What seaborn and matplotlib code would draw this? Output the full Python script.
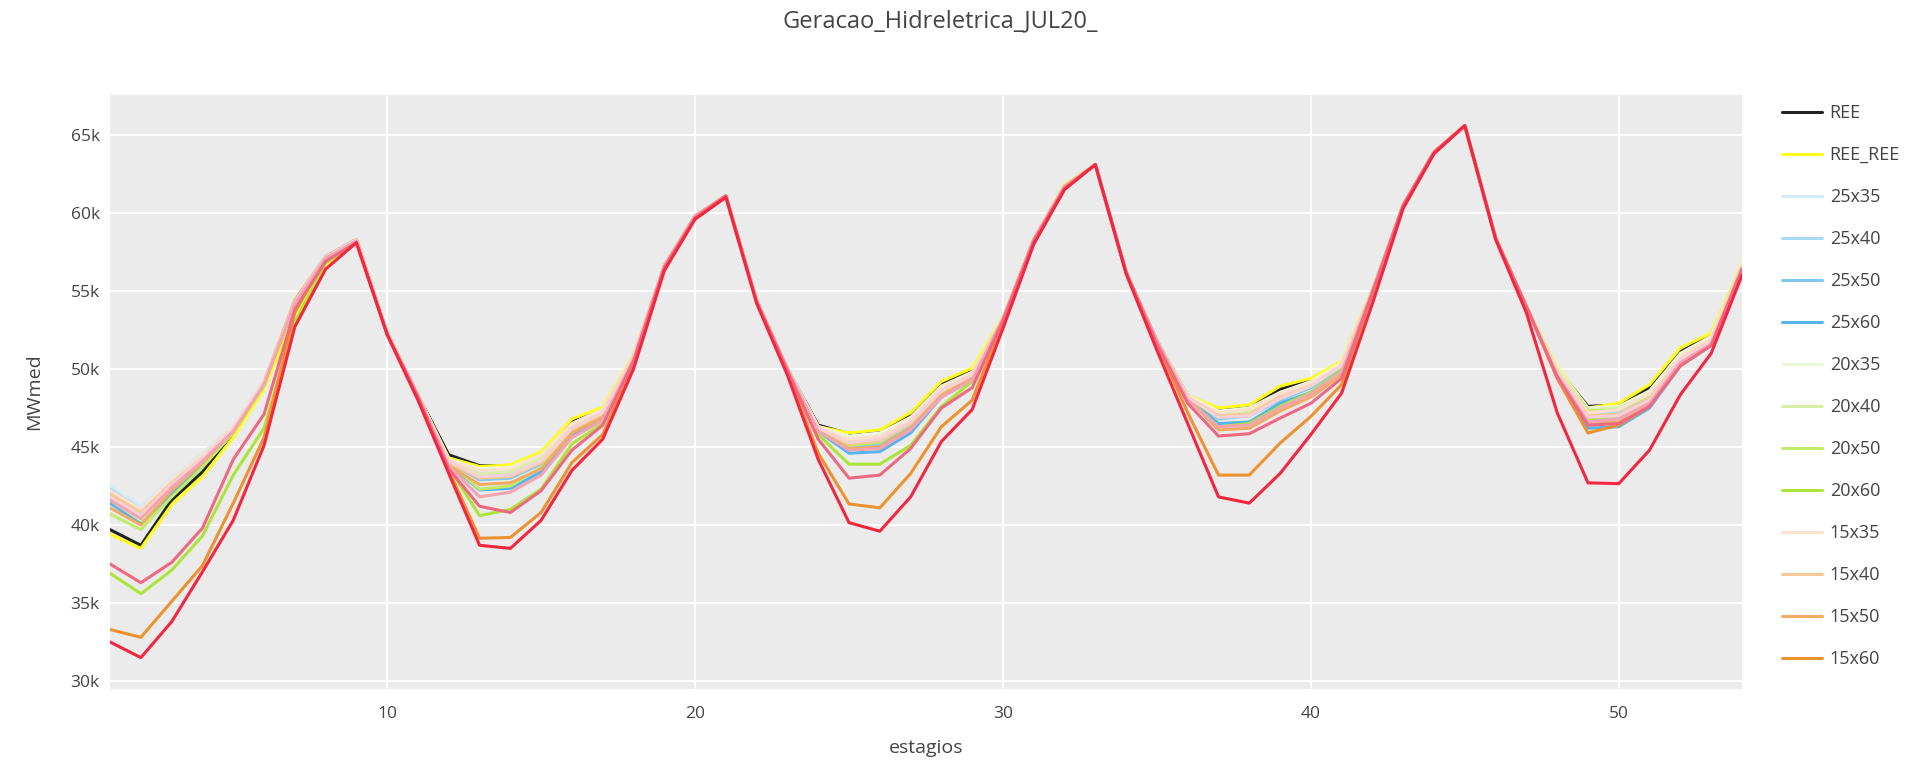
import numpy as np
import pandas as pd
import matplotlib
matplotlib.use("Agg")
import matplotlib.pyplot as plt
from matplotlib.ticker import FuncFormatter
import seaborn as sns

sns.set_style("darkgrid")
plt.rcParams['font.family'] = ['Open Sans', 'DejaVu Sans']

# estagios 1..54, valores em mil MWmed
estagios = list(range(1, 55))

ree = [39.7, 38.7, 41.6, 43.4, 45.9, 48.9, 54.2, 57.1, 58.2,
       52.3, 48.3, 44.5, 43.8, 43.8, 44.6, 46.6, 47.4, 50.8,
       56.6, 59.8, 61.1, 54.4, 50.0, 46.4, 45.85, 46.05, 47.1, 49.1, 49.9,
       53.2, 58.3, 61.7, 63.1, 56.2, 51.8, 48.3, 47.4, 47.6, 48.7, 49.3, 50.4,
       55.0, 60.5, 63.9, 65.6, 58.4, 54.0, 50.0, 47.6, 47.7, 48.8, 51.1, 52.2, 56.6]
ree_ree = [39.4, 38.5, 41.3, 43.1, 45.6, 48.7, 53.5, 56.7, 58.1,
           52.3, 48.3, 44.3, 43.75, 43.85, 44.7, 46.8, 47.55, 50.9,
           56.6, 59.8, 61.1, 54.4, 50.0, 46.3, 45.9, 46.1, 47.2, 49.2, 50.05,
           53.3, 58.3, 61.8, 63.1, 56.2, 51.8, 48.3, 47.5, 47.7, 48.9, 49.4, 50.5,
           55.1, 60.5, 63.9, 65.6, 58.4, 54.0, 50.1, 47.5, 47.8, 49.0, 51.35, 52.3, 56.7]
c25x35 = [42.5, 41.2, 43.0, 44.6, 46.3, 49.2, 54.4, 57.3, 58.3,
          52.3, 48.3, 44.2, 43.4, 43.5, 44.4, 46.4, 47.3, 50.8,
          56.6, 59.8, 61.1, 54.4, 50.0, 46.3, 45.6, 45.8, 46.8, 48.8, 49.7,
          53.2, 58.3, 61.7, 63.1, 56.2, 51.8, 48.2, 47.2, 47.4, 48.4, 49.1, 50.3,
          55.0, 60.5, 63.9, 65.6, 58.4, 54.0, 49.9, 47.3, 47.5, 48.5, 50.9, 52.0, 56.6]
c25x40 = [42.3, 41.0, 42.8, 44.4, 46.2, 49.2, 54.4, 57.2, 58.3,
          52.3, 48.3, 44.1, 43.2, 43.3, 44.2, 46.2, 47.2, 50.8,
          56.6, 59.8, 61.1, 54.4, 50.0, 46.2, 45.3, 45.5, 46.6, 48.6, 49.6,
          53.2, 58.3, 61.7, 63.1, 56.2, 51.8, 48.2, 47.0, 47.2, 48.2, 49.0, 50.2,
          55.0, 60.5, 63.9, 65.6, 58.4, 54.0, 49.8, 47.0, 47.2, 48.2, 50.7, 51.9, 56.6]
c25x50 = [41.9, 40.6, 42.5, 44.1, 46.0, 49.1, 54.3, 57.2, 58.3,
          52.3, 48.3, 44.0, 42.9, 43.0, 43.9, 46.0, 47.0, 50.7,
          56.6, 59.8, 61.1, 54.4, 50.0, 46.1, 45.0, 45.2, 46.4, 48.5, 49.5,
          53.2, 58.3, 61.7, 63.1, 56.2, 51.8, 48.1, 46.8, 47.0, 48.0, 48.8, 50.1,
          55.0, 60.5, 63.9, 65.6, 58.4, 54.0, 49.7, 46.7, 46.9, 47.9, 50.5, 51.7, 56.5]
c25x60 = [41.4, 40.1, 42.0, 43.8, 45.9, 49.0, 54.3, 57.2, 58.3,
          52.3, 48.3, 43.9, 42.25, 42.35, 43.4, 45.8, 46.9, 50.7,
          56.6, 59.8, 61.1, 54.4, 50.0, 46.0, 44.6, 44.7, 45.9, 48.2, 49.3,
          53.2, 58.3, 61.7, 63.1, 56.2, 51.8, 48.1, 46.5, 46.6, 47.8, 48.5, 49.9,
          55.0, 60.5, 63.9, 65.6, 58.4, 54.0, 49.5, 46.2, 46.3, 47.5, 50.2, 51.5, 56.4]
c20x35 = [42.1, 40.9, 42.8, 44.4, 46.2, 49.1, 54.3, 57.2, 58.3,
          52.3, 48.3, 44.2, 43.6, 43.7, 44.5, 46.5, 47.4, 50.8,
          56.6, 59.8, 61.1, 54.4, 50.0, 46.3, 45.7, 45.9, 46.9, 48.9, 49.8,
          53.2, 58.3, 61.7, 63.1, 56.2, 51.8, 48.3, 47.3, 47.5, 48.5, 49.2, 50.4,
          55.0, 60.5, 63.9, 65.6, 58.4, 54.0, 50.0, 47.5, 47.6, 48.6, 51.0, 52.1, 56.6]
c20x40 = [41.6, 40.3, 42.3, 44.0, 46.0, 49.0, 54.3, 57.2, 58.3,
          52.3, 48.3, 44.1, 43.3, 43.4, 44.3, 46.3, 47.3, 50.8,
          56.6, 59.8, 61.1, 54.4, 50.0, 46.2, 45.4, 45.6, 46.7, 48.7, 49.7,
          53.2, 58.3, 61.7, 63.1, 56.2, 51.8, 48.2, 47.1, 47.3, 48.3, 49.0, 50.3,
          55.0, 60.5, 63.9, 65.6, 58.4, 54.0, 49.9, 47.4, 47.5, 48.4, 50.8, 52.0, 56.6]
c20x50 = [40.7, 39.7, 41.8, 43.7, 45.9, 48.9, 54.2, 57.1, 58.2,
          52.3, 48.3, 44.0, 42.3, 42.5, 43.7, 46.0, 47.1, 50.8,
          56.6, 59.8, 61.1, 54.4, 50.0, 46.1, 45.1, 45.3, 46.5, 48.5, 49.6,
          53.2, 58.3, 61.7, 63.1, 56.2, 51.8, 48.2, 46.9, 47.1, 48.1, 48.9, 50.2,
          55.0, 60.5, 63.9, 65.6, 58.4, 54.0, 49.9, 47.3, 47.4, 48.3, 50.7, 51.9, 56.6]
c20x60 = [36.9, 35.6, 37.1, 39.3, 43.2, 46.2, 53.0, 56.8, 58.1,
          52.2, 48.2, 43.7, 40.6, 41.0, 42.3, 45.2, 46.5, 50.6,
          56.5, 59.8, 61.1, 54.3, 49.9, 45.8, 43.9, 43.9, 45.1, 47.6, 49.2,
          53.1, 58.2, 61.7, 63.1, 56.2, 51.7, 48.1, 46.3, 46.5, 47.6, 48.5, 49.9,
          54.9, 60.5, 63.9, 65.6, 58.4, 54.0, 49.8, 46.8, 47.0, 48.0, 50.5, 51.8, 56.5]
c15x35 = [42.2, 41.0, 42.9, 44.5, 46.3, 49.2, 54.4, 57.2, 58.3,
          52.3, 48.3, 44.2, 43.5, 43.6, 44.5, 46.5, 47.4, 50.8,
          56.6, 59.8, 61.1, 54.4, 50.0, 46.3, 45.5, 45.7, 46.8, 48.8, 49.7,
          53.2, 58.3, 61.7, 63.1, 56.2, 51.8, 48.2, 47.2, 47.4, 48.4, 49.1, 50.3,
          55.0, 60.5, 63.9, 65.6, 58.4, 54.0, 49.9, 47.2, 47.4, 48.4, 50.8, 52.0, 56.6]
c15x40 = [42.0, 40.8, 42.7, 44.3, 46.1, 49.1, 54.4, 57.2, 58.3,
          52.3, 48.3, 44.0, 43.0, 43.1, 44.0, 46.1, 47.1, 50.8,
          56.6, 59.8, 61.1, 54.4, 50.0, 46.2, 45.2, 45.4, 46.5, 48.6, 49.6,
          53.2, 58.3, 61.7, 63.1, 56.2, 51.8, 48.2, 47.0, 47.1, 48.2, 48.9, 50.2,
          55.0, 60.5, 63.9, 65.6, 58.4, 54.0, 49.8, 47.0, 47.1, 48.1, 50.6, 51.8, 56.5]
c15x50 = [41.1, 40.0, 42.2, 44.0, 46.0, 49.1, 54.4, 57.2, 58.3,
          52.3, 48.3, 43.8, 42.6, 42.7, 43.6, 45.9, 46.9, 50.7,
          56.6, 59.8, 61.1, 54.4, 50.0, 46.0, 44.9, 45.0, 46.2, 48.3, 49.4,
          53.2, 58.3, 61.7, 63.1, 56.2, 51.8, 48.1, 46.1, 46.2, 47.3, 48.2, 49.6,
          55.0, 60.5, 63.9, 65.6, 58.4, 54.0, 49.6, 46.5, 46.6, 47.7, 50.4, 51.6, 56.5]
c15x60 = [33.3, 32.8, 35.1, 37.4, 41.4, 45.6, 53.6, 57.2, 58.3,
          52.2, 48.1, 43.5, 39.15, 39.2, 40.8, 44.0, 45.8, 50.3,
          56.5, 59.7, 61.1, 54.3, 49.8, 44.6, 41.35, 41.1, 43.3, 46.3, 48.0,
          53.0, 58.2, 61.6, 63.1, 56.2, 51.6, 47.2, 43.2, 43.2, 45.25, 46.96, 49.0,
          54.8, 60.5, 63.9, 65.6, 58.4, 54.0, 49.4, 45.9, 46.4, 47.6, 50.3, 51.6, 56.4]
c10x35 = [41.8, 40.6, 42.6, 44.3, 46.2, 49.1, 54.3, 57.2, 58.3,
          52.3, 48.3, 44.1, 43.1, 43.2, 44.1, 46.2, 47.2, 50.8,
          56.6, 59.8, 61.1, 54.4, 50.0, 46.2, 45.3, 45.5, 46.6, 48.6, 49.6,
          53.2, 58.3, 61.7, 63.1, 56.2, 51.8, 48.2, 46.9, 47.0, 48.1, 48.9, 50.2,
          55.0, 60.5, 63.9, 65.6, 58.4, 54.0, 49.8, 46.9, 47.0, 48.0, 50.6, 51.8, 56.5]
c10x40 = [41.6, 40.4, 42.4, 44.1, 46.0, 49.0, 54.2, 57.1, 58.2,
          52.3, 48.3, 43.8, 41.8, 42.1, 43.2, 45.6, 46.7, 50.6,
          56.6, 59.8, 61.1, 54.4, 50.0, 46.0, 44.8, 44.9, 46.1, 48.2, 49.3,
          53.2, 58.3, 61.7, 63.1, 56.2, 51.8, 48.0, 46.3, 46.4, 47.5, 48.4, 49.8,
          55.0, 60.5, 63.9, 65.6, 58.4, 54.0, 49.6, 46.6, 46.8, 47.8, 50.4, 51.6, 56.4]
c10x50 = [37.5, 36.3, 37.6, 39.8, 44.2, 47.1, 53.8, 56.9, 58.1,
          52.2, 48.2, 43.6, 41.2, 40.8, 42.2, 44.8, 46.4, 50.5,
          56.5, 59.7, 61.1, 54.3, 49.9, 45.5, 43.0, 43.2, 44.9, 47.5, 48.8,
          53.1, 58.2, 61.6, 63.1, 56.2, 51.6, 47.8, 45.7, 45.85, 46.85, 47.8, 49.4,
          54.9, 60.5, 63.9, 65.6, 58.4, 54.0, 49.5, 46.4, 46.5, 47.6, 50.2, 51.5, 56.4]
c10x60 = [32.5, 31.5, 33.8, 37.0, 40.3, 45.1, 52.7, 56.4, 58.1,
          52.2, 48.0, 43.3, 38.7, 38.5, 40.3, 43.5, 45.5, 50.0,
          56.3, 59.6, 61.0, 54.2, 49.6, 44.2, 40.15, 39.6, 41.8, 45.35, 47.4,
          52.6, 58.0, 61.5, 63.1, 56.1, 51.2, 46.5, 41.8, 41.4, 43.3, 45.8, 48.46,
          54.2, 60.3, 63.8, 65.6, 58.3, 53.6, 47.2, 42.7, 42.65, 44.8, 48.35, 51.0, 56.0]

casos = ['REE', 'REE_REE', '25x35', '25x40', '25x50', '25x60',
         '20x35', '20x40', '20x50', '20x60', '15x35', '15x40', '15x50', '15x60',
         '10x35', '10x40', '10x50', '10x60']
series = [ree, ree_ree, c25x35, c25x40, c25x50, c25x60,
          c20x35, c20x40, c20x50, c20x60, c15x35, c15x40, c15x50, c15x60,
          c10x35, c10x40, c10x50, c10x60]
cores = ['#222222', '#ffff1a', '#d4ebf9', '#a9daf5', '#80c8f1', '#55b4ec',
         '#eef6da', '#d7efa6', '#c2eb6c', '#ade43a', '#fbe1ce', '#f6c897', '#f2ab63', '#ee922f',
         '#fad0d8', '#f5a2b1', '#ef6882', '#f3253f']

# long format para o seaborn
rows = []
for nome, vals in zip(casos, series):
    for e, v in zip(estagios, vals):
        rows.append((nome, e, v * 1000))
df = pd.DataFrame(rows, columns=['caso', 'estagios', 'MWmed'])

fig = plt.figure(figsize=(19.18, 7.65), dpi=100)
ax = fig.add_axes([0.0574, 0.1, 0.8508, 0.7758])
ax.set_facecolor('#ebebeb')

sns.lineplot(data=df, x='estagios', y='MWmed', hue='caso', hue_order=casos,
             palette=dict(zip(casos, cores)), linewidth=2.2, legend=False, ax=ax)

ax.set_xlim(1, 54)
ax.set_ylim(29520, 67560)
ax.set_xticks([10, 20, 30, 40, 50])
ax.set_yticks(range(30000, 65001, 5000))
ax.yaxis.set_major_formatter(FuncFormatter(lambda v, p: f'{v/1000:.0f}k'))
ax.grid(True, color='white', linewidth=1.3)
for s in ax.spines.values():
    s.set_visible(False)
ax.tick_params(axis='both', colors='#444444', labelsize=12.5, length=4.5, width=1.2,
               direction='out', pad=3)
ax.tick_params(axis='x', pad=8)

ax.set_xlabel('estagios', fontsize=14, color='#444444', labelpad=12)
ax.set_ylabel('MWmed', fontsize=14, color='#444444', labelpad=20)

fig.text(0.49, 0.972, 'Geracao_Hidreletrica_JUL20_', ha='center', va='center',
         fontsize=17, color='#444444')

# legenda (so os 14 primeiros cabem na area visivel)
linhas = ax.get_lines()[:14]
fig.legend(linhas, casos[:14], loc='upper left', bbox_to_anchor=(0.929, 0.864),
           frameon=False, fontsize=13, handlelength=2.2, handletextpad=0.45,
           labelspacing=1.33, borderpad=0, borderaxespad=0, labelcolor='#444444')

plt.savefig('out.png', dpi=100)
